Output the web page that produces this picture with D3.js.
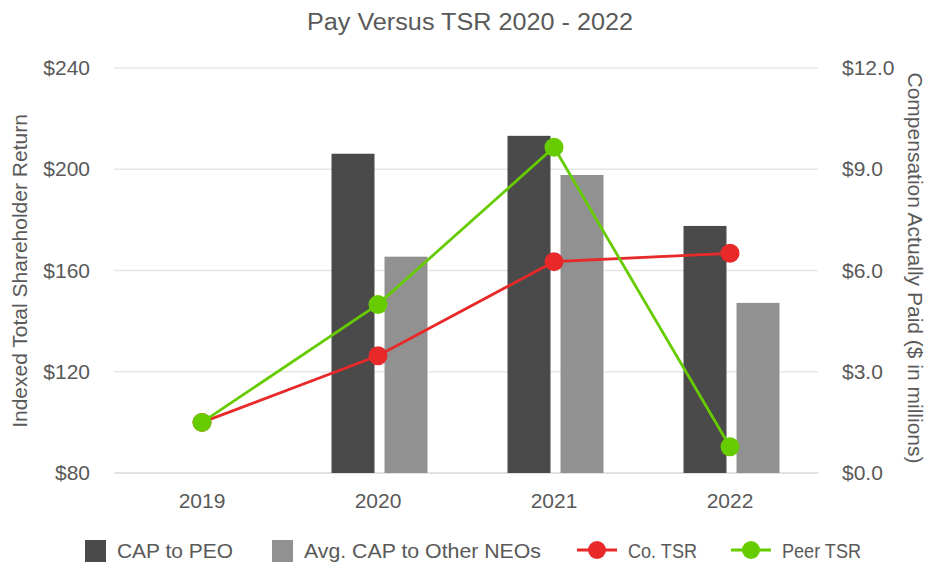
<!DOCTYPE html>
<html><head><meta charset="utf-8">
<script src="https://cdn.jsdelivr.net/npm/d3@7"></script>
<style>body{margin:0;background:#fff}svg{display:block;font-family:"Liberation Sans",Arial,sans-serif}</style>
</head><body><svg id="c" width="932" height="562"></svg>
<script>
const years = ["2019","2020","2021","2022"];
const capPEO = [null, 9.46, 9.99, 7.32];
const capNEO = [null, 6.41, 8.83, 5.04];
const coTSR = [100, 126.3, 163.5, 166.8];
const peerTSR = [100, 146.6, 208.7, 90.4];
const leftTicks = [80,120,160,200,240];
const rightTicks = [0,3,6,9,12];

const svg = d3.select("#c");
const x = d3.scaleBand().domain(years).range([114, 818]).padding(0);
const yL = d3.scaleLinear().domain([80,240]).range([473, 68]);
const yR = d3.scaleLinear().domain([0,12]).range([473, 68]);
const textCol = "#595959";
const FS = 21;

// title
svg.append("text").attr("x",470).attr("y",30).attr("text-anchor","middle")
  .attr("font-size",23).attr("fill",textCol)
  .attr("textLength",326).attr("lengthAdjust","spacingAndGlyphs")
  .text("Pay Versus TSR 2020 - 2022");

// gridlines
svg.append("g").selectAll("line").data(leftTicks).join("line")
  .attr("x1",114).attr("x2",818).attr("y1",d=>yL(d)).attr("y2",d=>yL(d))
  .attr("stroke",d=>d===80?"#d9d9d9":"#e6e6e6").attr("stroke-width",1.5);

// left axis
const la = svg.append("g").attr("transform","translate(114,0)")
  .call(d3.axisLeft(yL).tickValues(leftTicks).tickSize(0).tickPadding(24).tickFormat(d=>"$"+d));
la.select(".domain").remove();
la.selectAll("text").attr("font-size",FS).attr("fill",textCol).attr("font-family","Liberation Sans, Arial, sans-serif");

// right axis
const ra = svg.append("g").attr("transform","translate(818,0)")
  .call(d3.axisRight(yR).tickValues(rightTicks).tickSize(0).tickPadding(24).tickFormat(d=>"$"+d.toFixed(1)));
ra.select(".domain").remove();
ra.selectAll("text").attr("font-size",FS).attr("fill",textCol).attr("font-family","Liberation Sans, Arial, sans-serif");

// x axis
const xa = svg.append("g").attr("transform","translate(0,473)")
  .call(d3.axisBottom(x).tickSize(0).tickPadding(20));
xa.select(".domain").remove();
xa.selectAll("text").attr("font-size",FS).attr("fill",textCol).attr("font-family","Liberation Sans, Arial, sans-serif");

// axis titles
svg.append("text").attr("transform","translate(27,271) rotate(-90)").attr("text-anchor","middle")
  .attr("font-size",FS).attr("fill",textCol).text("Indexed Total Shareholder Return");
svg.append("text").attr("transform","translate(908,268) rotate(90)").attr("text-anchor","middle")
  .attr("font-size",FS).attr("fill",textCol).text("Compensation Actually Paid ($ in millions)");

// bars
const bw = 43, gap = 10, off = 1.5;
const cx = d => x(d) + x.bandwidth()/2;
svg.append("g").selectAll("rect").data(years.map((y,i)=>({y,v:capPEO[i]})).filter(d=>d.v!=null)).join("rect")
  .attr("x",d=>cx(d.y)+off-gap/2-bw).attr("width",bw)
  .attr("y",d=>yR(d.v)).attr("height",d=>yR(0)-yR(d.v)).attr("fill","#4a4a4a");
svg.append("g").selectAll("rect").data(years.map((y,i)=>({y,v:capNEO[i]})).filter(d=>d.v!=null)).join("rect")
  .attr("x",d=>cx(d.y)+off+gap/2).attr("width",bw)
  .attr("y",d=>yR(d.v)).attr("height",d=>yR(0)-yR(d.v)).attr("fill","#919191");

// lines
function drawLine(vals, color){
  const pts = years.map((y,i)=>[cx(y), yL(vals[i])]);
  svg.append("path").attr("d", d3.line()(pts)).attr("fill","none").attr("stroke",color).attr("stroke-width",2.8);
  svg.append("g").selectAll("circle").data(pts).join("circle")
    .attr("cx",d=>d[0]).attr("cy",d=>d[1]).attr("r",9.5).attr("fill",color);
}
drawLine(coTSR, "#e8292a");
drawLine(peerTSR, "#66cc00");

// legend
const lg = svg.append("g").attr("font-size",FS).attr("fill",textCol);
const ly = 550;
lg.append("rect").attr("x",85).attr("y",ly-10).attr("width",21).attr("height",22).attr("fill","#4a4a4a");
lg.append("text").attr("x",117).attr("y",ly+7.5).attr("fill",textCol).attr("textLength",116).attr("lengthAdjust","spacingAndGlyphs").text("CAP to PEO");
lg.append("rect").attr("x",272).attr("y",ly-10).attr("width",21).attr("height",22).attr("fill","#919191");
lg.append("text").attr("x",304).attr("y",ly+7.5).attr("fill",textCol).attr("textLength",237).attr("lengthAdjust","spacingAndGlyphs").text("Avg. CAP to Other NEOs");
[[577,"#e8292a","Co. TSR",69],[731,"#66cc00","Peer TSR",79]].forEach(([lx,c,t,w])=>{
  lg.append("line").attr("x1",lx).attr("x2",lx+40).attr("y1",ly).attr("y2",ly).attr("stroke",c).attr("stroke-width",2.8);
  lg.append("circle").attr("cx",lx+20).attr("cy",ly).attr("r",9).attr("fill",c);
  lg.append("text").attr("x",lx+51).attr("y",ly+7.5).attr("fill",textCol).attr("textLength",w).attr("lengthAdjust","spacingAndGlyphs").text(t);
});
</script></body></html>
